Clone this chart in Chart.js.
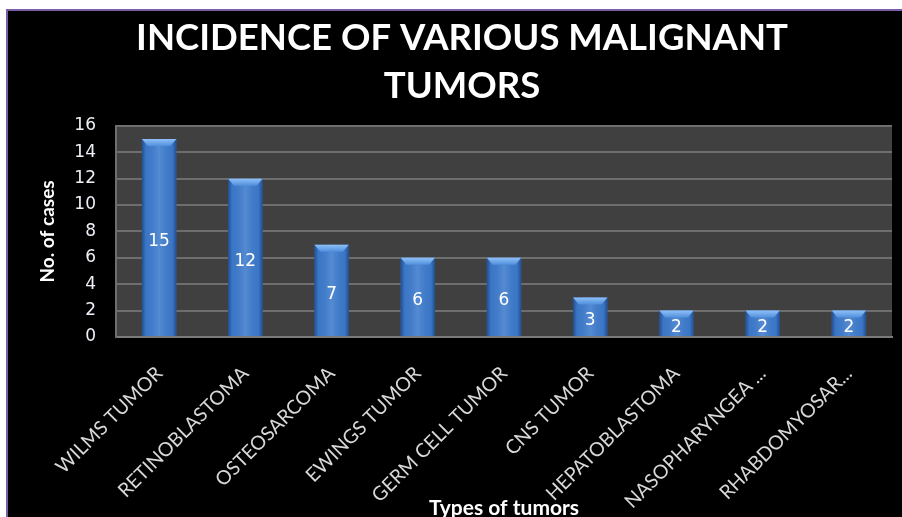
<!DOCTYPE html>
<html>
<head>
<meta charset="utf-8">
<script src="https://cdn.jsdelivr.net/npm/chart.js@4.4.1/dist/chart.umd.min.js"></script>
<style>
html, body { margin: 0; padding: 0; background: #fff; width: 902px; height: 517px; overflow: hidden; }
#frame {
    position: absolute; left: 6px; top: 9px;
    width: 894px; height: 506px;
    background: #000;
    border-left: 2px solid #7a5fa6;
    border-top: 2px solid #7a5fa6;
}
#tumorChart { display: block; }
</style>
</head>
<body>
<div id="frame"><canvas id="tumorChart" width="894" height="506"></canvas></div>
<script>
// Chart data
const tumorTypes = [
    'WILMS TUMOR', 'RETINOBLASTOMA', 'OSTEOSARCOMA', 'EWINGS TUMOR',
    'GERM CELL TUMOR', 'CNS TUMOR', 'HEPATOBLASTOMA', 'NASOPHARYNGEA ...', 'RHABDOMYOSAR...'
];
const caseCounts = [15, 12, 7, 6, 6, 3, 2, 2, 2];
const yMin = 0;
const yMax = 16;
const yStep = 2;

const chartTitle = ['INCIDENCE OF VARIOUS MALIGNANT', 'TUMORS'];
const xTitle = 'Types of tumors';
const yTitle = 'No. of cases';

// Dark grey plot area behind the grid
const plotBackground = {
    id: 'plotBackground',
    beforeDraw(chart) {
        const { ctx, chartArea: a } = chart;
        ctx.save();
        ctx.fillStyle = '#404040';
        ctx.fillRect(a.left, a.top, a.right - a.left, a.bottom - a.top);
        ctx.restore();
    }
};

// Cylinder-ish shading, top cap and value labels on the bars
const barDecor = {
    id: 'barDecor',
    afterDatasetsDraw(chart) {
        const ctx = chart.ctx;
        const meta = chart.getDatasetMeta(0);
        ctx.save();
        meta.data.forEach((bar, i) => {
            const { x, y, base, width } = bar.getProps(['x', 'y', 'base', 'width'], true);
            const left = x - width / 2;

            const g = ctx.createLinearGradient(left, 0, left + width, 0);
            g.addColorStop(0, 'rgba(15, 40, 95, 0.55)');
            g.addColorStop(0.12, 'rgba(15, 40, 95, 0.05)');
            g.addColorStop(0.5, 'rgba(255, 255, 255, 0.12)');
            g.addColorStop(0.88, 'rgba(15, 40, 95, 0.05)');
            g.addColorStop(1, 'rgba(15, 40, 95, 0.55)');
            ctx.fillStyle = g;
            ctx.fillRect(left, y, width, base - y);

            // top cap
            const cap = ctx.createLinearGradient(0, y, 0, y + 7);
            cap.addColorStop(0, '#8fc0f8');
            cap.addColorStop(1, '#4f8fdc');
            ctx.fillStyle = cap;
            ctx.beginPath();
            ctx.moveTo(left, y);
            ctx.lineTo(left + width, y);
            ctx.lineTo(left + width - 6, y + 7);
            ctx.lineTo(left + 6, y + 7);
            ctx.closePath();
            ctx.fill();

            // value label
            ctx.fillStyle = '#ffffff';
            ctx.font = '17px "DejaVu Sans"';
            ctx.textAlign = 'center';
            ctx.textBaseline = 'middle';
            ctx.fillText(String(caseCounts[i]), x, (y + base) / 2 + 4);
        });
        ctx.restore();
    }
};

const ctx = document.getElementById('tumorChart');
new Chart(ctx, {
    type: 'bar',
    data: {
        labels: tumorTypes,
        datasets: [{
            data: caseCounts,
            backgroundColor: '#3d7bcc',
            borderWidth: 0,
            barPercentage: 0.4,
            categoryPercentage: 1.0
        }]
    },
    options: {
        responsive: false,
        animation: false,
        layout: {
            padding: { left: 24, right: 10, top: 0, bottom: 0 }
        },
        plugins: {
            legend: { display: false },
            tooltip: { enabled: false },
            title: {
                display: true,
                text: chartTitle,
                color: '#ffffff',
                font: { family: 'Lato', size: 36.5, weight: 'bold', lineHeight: 1.3 },
                padding: { top: 4, bottom: 16 }
            }
        },
        scales: {
            x: {
                grid: { display: false },
                border: { display: true, color: '#7a7a7a', width: 2 },
                ticks: {
                    color: '#d8d8d8',
                    font: { family: 'Lato', size: 19.5 },
                    maxRotation: 45,
                    minRotation: 45,
                    padding: 17,
                    autoSkip: false
                },
                title: {
                    display: true,
                    text: xTitle,
                    color: '#ffffff',
                    font: { family: 'Lato', size: 21, weight: 'bold', lineHeight: 0.8 },
                    padding: { top: 0, bottom: 0 }
                },
                afterFit(scale) { scale.height = 180; }
            },
            y: {
                min: yMin,
                max: yMax,
                grid: { color: '#6e6e6e', lineWidth: 2, drawTicks: false },
                border: { display: true, color: '#6e6e6e', width: 2 },
                ticks: {
                    stepSize: yStep,
                    color: '#eef0f8',
                    font: { family: 'DejaVu Sans', size: 17 },
                    padding: 20
                },
                title: {
                    display: true,
                    text: yTitle,
                    color: '#ffffff',
                    font: { family: 'Lato', size: 19, weight: 'bold' },
                    padding: { top: 4, bottom: 0 }
                },
                afterFit(scale) { scale.width = 84; }
            }
        }
    },
    plugins: [plotBackground, barDecor]
});
</script>
</body>
</html>
